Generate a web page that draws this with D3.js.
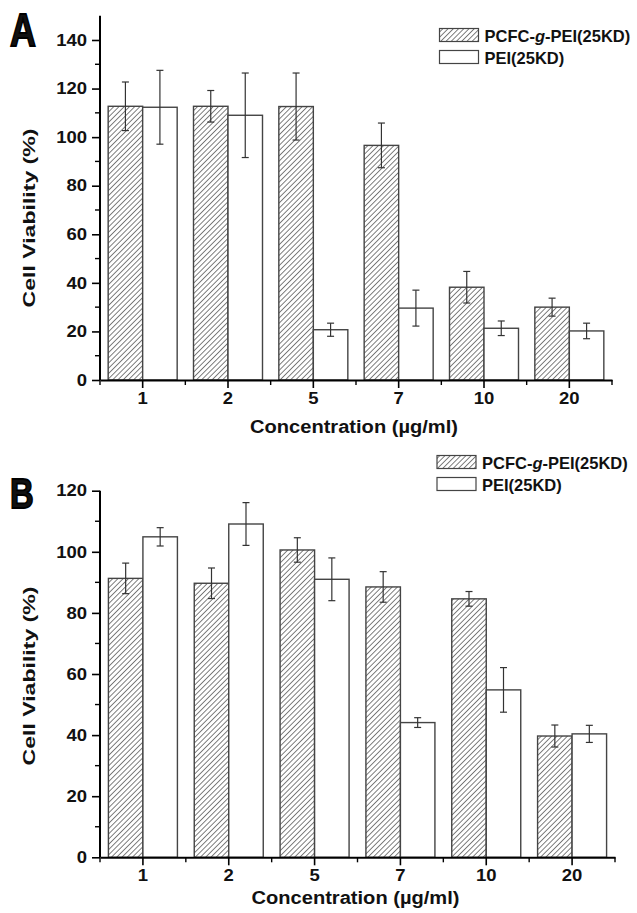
<!DOCTYPE html>
<html>
<head>
<meta charset="utf-8">
<script src="https://cdn.jsdelivr.net/npm/d3@7"></script>
<style>
  body { margin: 0; background: #fff; }
  text { font-family: "Liberation Sans", Arial, sans-serif; font-weight: bold; fill: #111; }
</style>
</head>
<body>
<div id="my_dataviz"></div>
<script>
// data
var concentrations = ["1", "2", "5", "7", "10", "20"];
var seriesNames = ["PCFC-g-PEI(25KD)", "PEI(25KD)"];

var pcfcA = [112.7, 112.7, 112.6, 96.6, 38.2, 30.0];
var pcfcAErr = [10, 6.5, 13.8, 9.2, 6.5, 3.7];
var peiA = [112.3, 109.0, 20.7, 29.6, 21.3, 20.2];
var peiAErr = [15.2, 17.4, 2.7, 7.4, 3.0, 3.2];

var pcfcB = [91.3, 89.7, 100.6, 88.5, 84.6, 39.7];
var pcfcBErr = [5, 5, 4, 5, 2.4, 3.6];
var peiB = [104.9, 109.1, 91.0, 44.1, 54.8, 40.4];
var peiBErr = [3, 7, 7, 1.6, 7.3, 2.8];

var yTicksA = [0, 20, 40, 60, 80, 100, 120, 140];
var yTicksB = [0, 20, 40, 60, 80, 100, 120];

var W = 637, H = 913;

var svg = d3.select("#my_dataviz")
    .append("svg")
    .attr("width", W)
    .attr("height", H);

// hatch pattern for PCFC bars
var defs = svg.append("defs");
var pat = defs.append("pattern")
    .attr("id", "hatch")
    .attr("patternUnits", "userSpaceOnUse")
    .attr("width", 3.7)
    .attr("height", 3.7)
    .attr("patternTransform", "rotate(45)");
pat.append("rect").attr("width", 3.7).attr("height", 3.7).attr("fill", "#fff");
pat.append("line")
    .attr("x1", 0).attr("y1", 0).attr("x2", 0).attr("y2", 3.7)
    .attr("stroke", "#2a2a2a").attr("stroke-width", 1.2);

// widen tick labels a little, the source font runs wide
function stretch(sel, k) {
    sel.each(function () {
        var L = this.getComputedTextLength();
        d3.select(this).attr("textLength", L * k).attr("lengthAdjust", "spacingAndGlyphs");
    });
}

function drawPanel(cfg) {
    var g = svg.append("g");

    var x = d3.scaleBand()
        .domain(concentrations)
        .range([cfg.left, cfg.right])
        .padding(0);
    var y = d3.scaleLinear()
        .domain([0, cfg.ymax])
        .range([cfg.bottom, cfg.top]);

    var bw = 34.5;
    var rows = concentrations.map(function (c, i) {
        return [
            { c: c, v: cfg.pcfc[i], e: cfg.pcfcErr[i], k: 0 },
            { c: c, v: cfg.pei[i], e: cfg.peiErr[i], k: 1 }
        ];
    }).flat();

    // bars
    g.append("g")
        .selectAll("rect")
        .data(rows)
        .enter()
        .append("rect")
        .attr("x", function (d) { return x(d.c) + x.bandwidth() / 2 - bw + d.k * bw; })
        .attr("y", function (d) { return y(d.v); })
        .attr("width", bw)
        .attr("height", function (d) { return y(0) - y(d.v); })
        .attr("fill", function (d) { return d.k == 0 ? "url(#hatch)" : "#fff"; })
        .attr("stroke", "#444")
        .attr("stroke-width", 1.4);

    // error bars
    var eb = g.append("g").attr("stroke", "#333").attr("stroke-width", 1.2);
    rows.forEach(function (d) {
        var cx = x(d.c) + x.bandwidth() / 2 - bw / 2 + d.k * bw;
        eb.append("line").attr("x1", cx).attr("x2", cx).attr("y1", y(d.v + d.e)).attr("y2", y(d.v - d.e));
        eb.append("line").attr("x1", cx - 3.5).attr("x2", cx + 3.5).attr("y1", y(d.v + d.e)).attr("y2", y(d.v + d.e));
        eb.append("line").attr("x1", cx - 3.5).attr("x2", cx + 3.5).attr("y1", y(d.v - d.e)).attr("y2", y(d.v - d.e));
    });

    // Y axis (major + minor ticks)
    var yAx = g.append("g")
        .attr("transform", "translate(" + cfg.left + ",0)")
        .call(d3.axisLeft(y).tickValues(cfg.yTicks).tickSize(8).tickPadding(5).tickSizeOuter(0));
    yAx.select(".domain").attr("stroke-width", 2).attr("d", "M0," + y(cfg.ymax) + "V" + y(0));
    yAx.selectAll(".tick line").attr("stroke-width", 1.6);
    yAx.selectAll(".tick text").attr("font-size", 16.5).attr("font-family", "Liberation Sans").attr("font-weight", "bold").attr("fill", "#111");
    stretch(yAx.selectAll(".tick text"), 1.12);
    var minor = d3.range(10, cfg.ymax, 20);
    g.append("g").selectAll("line").data(minor).enter().append("line")
        .attr("x1", cfg.left - 5).attr("x2", cfg.left)
        .attr("y1", function (d) { return y(d); }).attr("y2", function (d) { return y(d); })
        .attr("stroke", "#000").attr("stroke-width", 1.4);

    // X axis
    var xAx = g.append("g")
        .attr("transform", "translate(0," + cfg.bottom + ")")
        .call(d3.axisBottom(x).tickSize(8).tickPadding(4).tickSizeOuter(0));
    xAx.select(".domain").attr("stroke-width", 2);
    xAx.selectAll(".tick line").attr("stroke-width", 1.6);
    xAx.selectAll(".tick text").attr("font-size", 16.5).attr("font-family", "Liberation Sans").attr("font-weight", "bold").attr("fill", "#111");
    stretch(xAx.selectAll(".tick text"), 1.12);
    var bounds = concentrations.map(function (c) { return x(c); }).concat([cfg.right]);
    g.append("g").selectAll("line").data(bounds).enter().append("line")
        .attr("x1", function (d) { return d; }).attr("x2", function (d) { return d; })
        .attr("y1", cfg.bottom).attr("y2", cfg.bottom + 5)
        .attr("stroke", "#000").attr("stroke-width", 1.4);

    // axis titles
    g.append("text")
        .attr("x", (cfg.left + cfg.right) / 2 - 2)
        .attr("y", cfg.xTitleY)
        .attr("text-anchor", "middle")
        .attr("font-size", 18)
        .attr("textLength", 208)
        .attr("lengthAdjust", "spacingAndGlyphs")
        .text("Concentration (\u00b5g/ml)");
    g.append("text")
        .attr("transform", "translate(" + 35 + "," + cfg.yTitleY + ") rotate(-90)")
        .attr("text-anchor", "middle")
        .attr("font-size", 17)
        .attr("textLength", 179)
        .attr("lengthAdjust", "spacingAndGlyphs")
        .text("Cell Viability (%)");

    // panel letter
    g.append("text")
        .attr("transform", "translate(" + cfg.letterX + "," + cfg.letterY + ") scale(0.78,1)")
        .attr("font-size", cfg.letterSize)
        .attr("font-family", "Liberation Sans Narrow, Liberation Sans")
        .attr("fill", "#000")
        .attr("stroke", "#000")
        .attr("stroke-width", 1.8)
        .text(cfg.letter);

    // legend
    var lg = g.append("g");
    [0, 1].forEach(function (k) {
        var ly = cfg.legY + k * 22;
        lg.append("rect")
            .attr("x", cfg.legX).attr("y", ly)
            .attr("width", 39).attr("height", 13)
            .attr("fill", k == 0 ? "url(#hatch)" : "#fff")
            .attr("stroke", "#444").attr("stroke-width", 1.2);
        var t = lg.append("text")
            .attr("x", cfg.legX + 45).attr("y", ly + 13)
            .attr("font-size", 16.5);
        if (k == 0) {
            t.append("tspan").text("PCFC-");
            t.append("tspan").attr("font-style", "italic").text("g");
            t.append("tspan").text("-PEI(25KD)");
        } else {
            t.text(seriesNames[1]);
        }
    });
}

drawPanel({
    pcfc: pcfcA, pcfcErr: pcfcAErr, pei: peiA, peiErr: peiAErr,
    yTicks: yTicksA, ymax: 150,
    left: 100, right: 612, top: 15.7, bottom: 380,
    xTitleY: 433, yTitleY: 218,
    letter: "A", letterX: 10, letterY: 46, letterSize: 46,
    legX: 439.5, legY: 28.5
});

drawPanel({
    pcfc: pcfcB, pcfcErr: pcfcBErr, pei: peiB, peiErr: peiBErr,
    yTicks: yTicksB, ymax: 120,
    left: 100, right: 615, top: 490.7, bottom: 857.3,
    xTitleY: 904, yTitleY: 676,
    letter: "B", letterX: 10, letterY: 508, letterSize: 42,
    legX: 437, legY: 455.5
});
</script>
</body>
</html>
